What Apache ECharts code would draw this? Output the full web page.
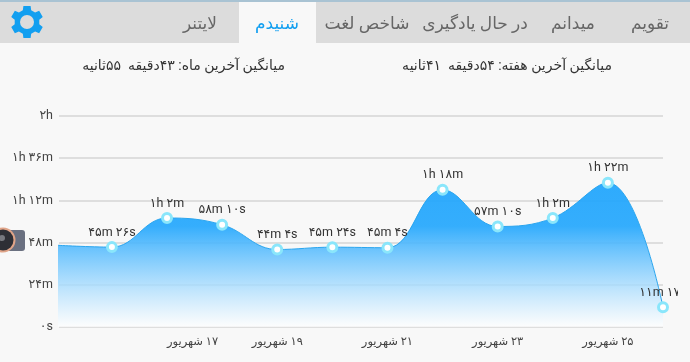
<!DOCTYPE html>
<html>
<head>
<meta charset="utf-8">
<style>
html,body{margin:0;padding:0;background:#f8f8f8;}
#main{width:690px;height:362px;}
</style>
<script src="https://cdn.jsdelivr.net/npm/echarts@6/dist/echarts.min.js"></script>
</head>
<body>
<div id="main"></div>
<script>
var days = [15, 16, 17, 18, 19, 20, 21, 22, 23, 24, 25, 26];
var minutes = [46.5, 45.43, 62, 58.17, 44.07, 45.4, 45.07, 78, 57.17, 62, 82, 11.28];
var pointLabels = ['', '۴۵m ۲۶s', '۱h ۲m', '۵۸m ۱۰s', '۴۴m ۴s', '۴۵m ۲۴s', '۴۵m ۴s', '۱h ۱۸m', '۵۷m ۱۰s', '۱h ۲m', '۱h ۲۲m', '۱۱m ۱۷s'];
var yTicks = [0, 24, 48, 72, 96, 120];
var yLabels = ['۰s', '۲۴m', '۴۸m', '۱h ۱۲m', '۱h ۳۶m', '۲h'];
var xTickDays = [17, 19, 21, 23, 25];
var xLabels = ['۱۷ شهریور', '۱۹ شهریور', '۲۱ شهریور', '۲۳ شهریور', '۲۵ شهریور'];
var tabs = ['تقویم', 'میدانم', 'در حال یادگیری', 'شاخص لغت', 'شنیدم', 'لایتنر'];
var tabX = [650, 573, 475, 367, 277, 200];
var monthAvg = 'میانگین آخرین ماه: ۴۳دقیقه  ۵۵ثانیه';
var weekAvg = 'میانگین آخرین هفته: ۵۴دقیقه  ۴۱ثانیه';

var FONT = 'Roboto, "DejaVu Sans", sans-serif';

//متن راست به چپ
function rtl(s){
    return '\u202B' + s + '\u202C';
}

//چرخ دنده
function gearPoints(cx, cy){
    var pts = [];
    for(var i=0;i<6;i++){
        var a = -Math.PI/2 + i*Math.PI/3;
        pts.push([cx+12.5*Math.cos(a-0.34), cy+12.5*Math.sin(a-0.34)]);
        pts.push([cx+16.5*Math.cos(a-0.22), cy+16.5*Math.sin(a-0.22)]);
        pts.push([cx+16.5*Math.cos(a+0.22), cy+16.5*Math.sin(a+0.22)]);
        pts.push([cx+12.5*Math.cos(a+0.34), cy+12.5*Math.sin(a+0.34)]);
    }
    return pts;
}

var graphics = [
    {type:'rect', z:0, shape:{x:0,y:0,width:690,height:43}, style:{fill:'#dcdcdc'}},
    {type:'rect', z:0, shape:{x:0,y:0,width:690,height:2}, style:{fill:'#a9c3d3'}},
    {type:'rect', z:0, shape:{x:239,y:2,width:77,height:41}, style:{fill:'#f8f8f8'}},
    {type:'polygon', z:1, shape:{points:gearPoints(27,22)}, style:{fill:'#129ff0'}},
    {type:'circle', z:2, shape:{cx:27,cy:22,r:7}, style:{fill:'#dcdcdc'}},
    {type:'text', z:2, x:285, y:66, style:{text:rtl(monthAvg), font:'14px '+FONT, fill:'#333', align:'right', verticalAlign:'middle'}},
    {type:'text', z:2, x:612, y:66, style:{text:rtl(weekAvg), font:'14px '+FONT, fill:'#333', align:'right', verticalAlign:'middle'}},
    //دوربین
    {type:'rect', z:2, shape:{x:0,y:230,width:25,height:21,r:3}, style:{fill:'#6a7080'}},
    {type:'circle', z:3, shape:{cx:3,cy:240,r:12.5}, style:{fill:'#e0a488'}},
    {type:'circle', z:4, shape:{cx:3,cy:240,r:10.5}, style:{fill:'#2e2f35'}},
    {type:'circle', z:5, shape:{cx:2,cy:238,r:3}, style:{fill:'#77797f'}},
    //برش برچسب آخر
    {type:'rect', z:200, shape:{x:678,y:282,width:12,height:22}, style:{fill:'#f8f8f8'}}
];
for(var i=0;i<tabs.length;i++){
    graphics.push({type:'text', z:2, x:tabX[i], y:25, style:{
        text:rtl(tabs[i]), font:'17px '+FONT, fill:i==4 ? '#129ff0' : '#666', align:'center', verticalAlign:'middle'
    }});
}

var seriesData = [];
for(var j=0;j<days.length;j++){
    seriesData.push([days[j], minutes[j]]);
}

var myEcharts = echarts.init(document.getElementById('main'), null, {renderer:'canvas'});
var option = {
    animation:false,
    backgroundColor:'#f8f8f8',
    textStyle:{fontFamily:FONT},
    graphic:graphics,
    grid:{left:59, right:27, top:116, bottom:35},
    xAxis:{
        type:'value',
        min:15.04,
        max:26,
        splitLine:{show:false},
        axisLine:{show:false},
        axisTick:{show:false},
        axisLabel:{
            customValues:xTickDays,
            alignMinLabel:'left',
            color:'#444',
            fontSize:11.5,
            margin:9,
            fontFamily:FONT,
            formatter:function(v){
                return rtl(xLabels[xTickDays.indexOf(v)]);
            }
        }
    },
    yAxis:{
        type:'value',
        min:0,
        max:120,
        interval:24,
        axisLine:{show:false},
        axisTick:{show:false},
        splitLine:{show:true, lineStyle:{color:'#d6d6d6', width:1.5}},
        axisLabel:{
            color:'#444',
            fontSize:12.5,
            margin:6,
            fontFamily:FONT,
            formatter:function(v){
                return yLabels[yTicks.indexOf(v)];
            }
        }
    },
    series:[{
        type:'line',
        data:seriesData,
        smooth:0.4,
        clip:true,
        symbol:'circle',
        symbolSize:9,
        showAllSymbol:true,
        itemStyle:{color:'#fff', borderColor:'#8ae6fb', borderWidth:3, opacity:1},
        lineStyle:{color:'#2aa5ee', width:1},
        areaStyle:{
            opacity:0.93,
            color:new echarts.graphic.LinearGradient(0,0,0,1,[
                {offset:0, color:'#1fa5fd'},
                {offset:0.3, color:'#26a8fd'},
                {offset:1, color:'rgba(255,255,255,0.75)'}
            ])
        },
        label:{
            show:true,
            position:'top',
            distance:2,
            color:'#333',
            fontSize:12.5,
            fontFamily:FONT,
            formatter:function(p){
                return pointLabels[p.dataIndex];
            }
        },
        z:2
    }]
};
myEcharts.setOption(option);
</script>
</body>
</html>
